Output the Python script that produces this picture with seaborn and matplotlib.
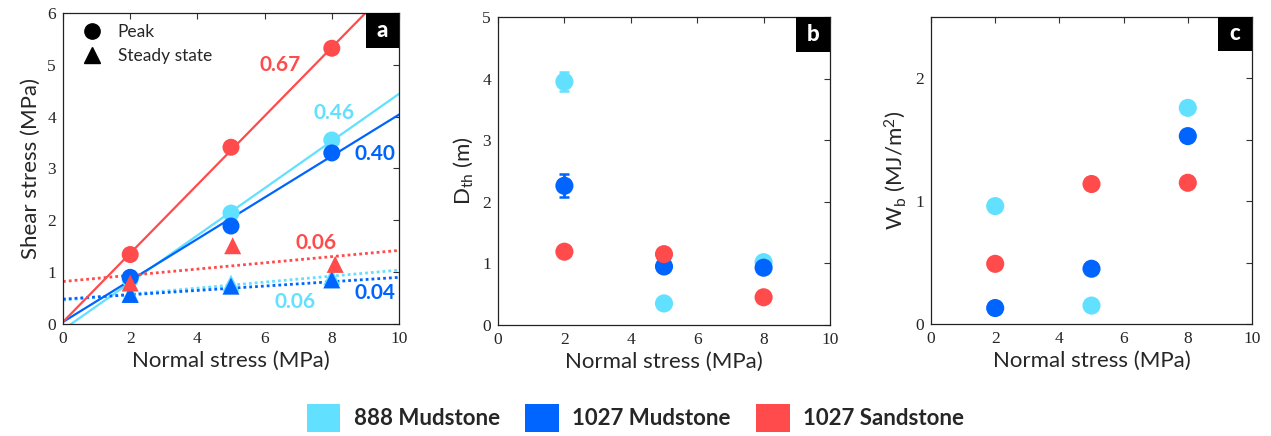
import numpy as np
import pandas as pd
import matplotlib
matplotlib.use("Agg")
import matplotlib.pyplot as plt
from matplotlib.patches import Patch, Rectangle
from matplotlib.lines import Line2D
import seaborn as sns

# ---------------- data ----------------
rocks = ["888 Mudstone", "1027 Mudstone", "1027 Sandstone"]
colors = ["#62E0FF", "#0064FF", "#FF4B4B"]
normal_stress = [2, 5, 8]
x_ticks = [0, 2, 4, 6, 8, 10]

# panel a: shear stress
peak_888m = [0.86, 2.14, 3.55]
peak_1027m = [0.90, 1.89, 3.30]
peak_1027s = [1.34, 3.41, 5.32]
steady_x_888m = [2, 5, 8]
steady_x_1027m = [2, 5, 8]
steady_x_1027s = [2, 5.05, 8.1]
steady_888m = [0.59, 0.79, 0.91]
steady_1027m = [0.57, 0.73, 0.85]
steady_1027s = [0.79, 1.51, 1.15]

# fitted friction lines (slope, intercept)
peak_slope = [0.455, 0.400, 0.662]
peak_icpt = [-0.11, 0.04, 0.04]
steady_slope = [0.058, 0.042, 0.060]
steady_icpt = [0.46, 0.48, 0.82]
peak_lbl = ["0.46", "0.40", "0.67"]
steady_lbl = ["0.06", "0.04", "0.06"]

# panel b: D_th
dth_888m = [3.95, 0.35, 1.02]
dth_1027m = [2.26, 0.95, 0.93]
dth_1027s = [1.19, 1.15, 0.45]
dth_err_888m = [0.15, 0.0, 0.0]
dth_err_1027m = [0.19, 0.0, 0.0]

# panel c: W_b
wb_888m = [0.96, 0.15, 1.76]
wb_1027m = [0.13, 0.45, 1.53]
wb_1027s = [0.49, 1.14, 1.15]

# ---------------- style ----------------
sns.set_theme(style="white")
SERIF = "Liberation Serif"
SANS = "Lato"
plt.rcParams["font.family"] = [SERIF, "DejaVu Serif"]
plt.rcParams["xtick.labelsize"] = 12.5
plt.rcParams["ytick.labelsize"] = 12.5
plt.rcParams["mathtext.fontset"] = "custom"
plt.rcParams["mathtext.rm"] = SANS
plt.rcParams["mathtext.it"] = SANS
plt.rcParams["axes.edgecolor"] = "#222222"

LABEL_FS = 16
palette = dict(zip(rocks, colors))

fig = plt.figure(figsize=(12.71, 4.36), dpi=100)
W, H = 1271, 436


def add_ax(l, r, t, b):
    return fig.add_axes([l / W, 1 - b / H, (r - l) / W, (b - t) / H])


axA = add_ax(63, 399, 13, 324)
axB = add_ax(498, 830, 17, 325)
axC = add_ax(931, 1252, 17, 324)


def style_ax(ax, letter, bw, bh):
    ax.tick_params(direction="in", top=True, right=True, length=4, width=0.8,
                   color="#333333", pad=5)
    ax.tick_params(which="minor", direction="in", top=True, right=True,
                   length=4, width=0.8, color="#333333")
    for s in ax.spines.values():
        s.set_linewidth(0.9)
        s.set_color("#222222")
    ax.add_patch(Rectangle((1 - bw, 1 - bh), bw, bh, transform=ax.transAxes,
                           facecolor="black", edgecolor="none", zorder=10,
                           clip_on=False))
    ax.text(1 - bw / 2, 1 - bh / 2, letter, transform=ax.transAxes,
            color="white", fontsize=16, fontweight="black", ha="center",
            va="center", zorder=11, fontfamily=SANS)


def labels(ax, xl, yl):
    ax.set_xlabel(xl, fontsize=LABEL_FS, labelpad=3, fontfamily=SANS)
    ax.set_ylabel(yl, fontsize=LABEL_FS, labelpad=5, fontfamily=SANS)


# ---------------- panel a ----------------
rows = []
for rock, pk, st, sx in zip(rocks, [peak_888m, peak_1027m, peak_1027s],
                            [steady_888m, steady_1027m, steady_1027s],
                            [steady_x_888m, steady_x_1027m, steady_x_1027s]):
    for x, y in zip(normal_stress, pk):
        rows.append((rock, "Peak", x, y))
    for x, y in zip(sx, st):
        rows.append((rock, "Steady state", x, y))
dfa = pd.DataFrame(rows, columns=["rock", "kind", "sn", "tau"])

xs = np.array([0.0, 10.0])
lines = []
for rock, s, c in zip(rocks, peak_slope, peak_icpt):
    for x in xs:
        lines.append((rock, "peak", x, c + s * x))
for rock, s, c in zip(rocks, steady_slope, steady_icpt):
    for x in xs:
        lines.append((rock, "steady", x, c + s * x))
dfl = pd.DataFrame(lines, columns=["rock", "kind", "sn", "tau"])

for rock in rocks:
    d = dfl[(dfl.rock == rock) & (dfl.kind == "peak")]
    sns.lineplot(data=d, x="sn", y="tau", color=palette[rock], lw=1.6,
                 ax=axA, zorder=2)
    d = dfl[(dfl.rock == rock) & (dfl.kind == "steady")]
    sns.lineplot(data=d, x="sn", y="tau", color=palette[rock], lw=2.0,
                 ls=(0, (1, 1.1)), ax=axA, zorder=2)

sns.scatterplot(data=dfa, x="sn", y="tau", hue="rock", palette=palette,
                style="kind", markers={"Peak": "o", "Steady state": "^"},
                s=150, linewidth=0, ax=axA, legend=False, zorder=3)

# slope labels
lbl_pos_peak = [(8.07, 4.07), (9.29, 3.28), (6.45, 5.0)]
lbl_pos_steady = [(6.92, 0.43), (9.29, 0.59), (7.52, 1.56)]
for rock, t, (x, y) in zip(rocks, peak_lbl, lbl_pos_peak):
    axA.text(x, y, t, color=palette[rock], fontsize=15, fontweight="bold",
             ha="center", va="center", zorder=4, fontfamily=SANS)
for rock, t, (x, y) in zip(rocks, steady_lbl, lbl_pos_steady):
    axA.text(x, y, t, color=palette[rock], fontsize=15, fontweight="bold",
             ha="center", va="center", zorder=4, fontfamily=SANS)

axA.set_xlim(0, 10)
axA.set_ylim(0, 6)
axA.set_xticks(x_ticks)
axA.set_yticks([0, 1, 2, 3, 4, 5, 6])
labels(axA, "Normal stress (MPa)", "Shear stress (MPa)")
hl = [Line2D([], [], marker="o", color="black", ls="none", markersize=11),
      Line2D([], [], marker="^", color="black", ls="none", markersize=11)]
axA.legend(hl, ["Peak", "Steady state"], loc="upper left", frameon=False,
           prop={"family": SANS, "size": 12.5}, handletextpad=0.5,
           borderaxespad=0.25, labelspacing=0.45, bbox_to_anchor=(0.0, 1.0))
style_ax(axA, "a", 33 / 336, 35 / 311)

# ---------------- panel b ----------------
rows = []
for rock, v, e in zip(rocks, [dth_888m, dth_1027m, dth_1027s],
                      [dth_err_888m, dth_err_1027m, [0, 0, 0]]):
    for x, y, ee in zip(normal_stress, v, e):
        rows.append((rock, x, y, ee))
dfb = pd.DataFrame(rows, columns=["rock", "sn", "dth", "err"])
for rock in rocks:
    d = dfb[(dfb.rock == rock) & (dfb.err > 0)]
    if len(d):
        axB.errorbar(d.sn, d.dth, yerr=d.err, fmt="none",
                     ecolor=palette[rock], elinewidth=2, capsize=3.5,
                     capthick=1.8, zorder=2)
sns.scatterplot(data=dfb, x="sn", y="dth", hue="rock", palette=palette,
                s=170, linewidth=0, ax=axB, legend=False, zorder=3)
axB.set_xlim(0, 10)
axB.set_ylim(0, 5)
axB.set_xticks(x_ticks)
axB.set_yticks([0, 1, 2, 3, 4, 5])
labels(axB, "Normal stress (MPa)", r"D$_{\mathrm{th}}$ (m)")
style_ax(axB, "b", 34 / 332, 35 / 308)

# ---------------- panel c ----------------
rows = []
for rock, v in zip(rocks, [wb_888m, wb_1027m, wb_1027s]):
    for x, y in zip(normal_stress, v):
        rows.append((rock, x, y))
dfc = pd.DataFrame(rows, columns=["rock", "sn", "wb"])
sns.scatterplot(data=dfc, x="sn", y="wb", hue="rock", palette=palette,
                s=170, linewidth=0, ax=axC, legend=False, zorder=3)
axC.set_xlim(0, 10)
axC.set_ylim(0, 2.5)
axC.set_xticks(x_ticks)
axC.set_yticks([0, 1, 2])
axC.set_yticks([0.5, 1.5], minor=True)
labels(axC, "Normal stress (MPa)", r"W$_{\mathrm{b}}$ (MJ/m$^{2}$)")
style_ax(axC, "c", 34 / 321, 34 / 307)

# ---------------- bottom legend ----------------
handles = [Patch(facecolor=c, edgecolor="none") for c in colors]
fig.legend(handles, rocks, loc="center", bbox_to_anchor=(0.5, 1 - 418 / H),
           ncol=3, frameon=False,
           prop={"family": SANS, "weight": "bold", "size": 16},
           handlelength=1.5, handleheight=1.5, handletextpad=0.6,
           columnspacing=1.15)

fig.savefig("out.png", dpi=100)
